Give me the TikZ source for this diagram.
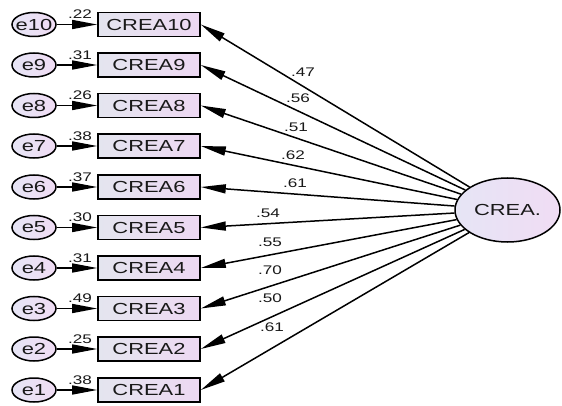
\documentclass[tikz,border=0pt]{standalone}
\usepackage{fontspec}
\newfontfamily\amosfont[FakeStretch=1.37]{Liberation Sans}
\usetikzlibrary{arrows.meta,shapes.geometric}
\definecolor{boxleft}{RGB}{228,229,239}
\definecolor{boxright}{RGB}{237,216,242}
\definecolor{latleft}{RGB}{230,229,245}
\definecolor{latright}{RGB}{240,220,244}
\tikzset{
	itembox/.style={draw, line width=1.6pt, rectangle, minimum width=102pt, minimum height=24pt, inner sep=0pt,
		left color=boxleft, right color=boxright, text=black!90, font=\amosfont\fontsize{16}{18}\selectfont},
	errnode/.style={draw, line width=1.5pt, ellipse, minimum width=44pt, minimum height=24pt, inner xsep=-3pt, inner ysep=0pt,
		left color=latleft, right color=latright, text=black!90, font=\amosfont\fontsize{16}{18}\selectfont},
	latnode/.style={draw, line width=1.5pt, ellipse, minimum width=105pt, minimum height=64pt, inner sep=0pt,
		left color=latleft, right color=latright, text=black!90, font=\amosfont\fontsize{16}{18}\selectfont},
	loadarrow/.style={line width=1.5pt, -{Triangle[length=25pt,width=9pt]}},
	coef/.style={inner sep=0pt, text=black!90, font=\amosfont\fontsize{12.5}{14}\selectfont},
}

\begin{document}
\begin{tikzpicture}[x=1pt, y=-1pt]
		%%%%% START %%%%%
		\useasboundingbox (0, 0) rectangle (562, 406);
		
		\node[latnode] (crea) at (507.5, 210) {CREA.};
		
		\node[itembox] (c10) at (149, 24.5) {CREA10};
		\node[itembox] (c9) at (149, 65) {CREA9};
		\node[itembox] (c8) at (149, 105.5) {CREA8};
		\node[itembox] (c7) at (149, 146) {CREA7};
		\node[itembox] (c6) at (149, 187) {CREA6};
		\node[itembox] (c5) at (149, 227.5) {CREA5};
		\node[itembox] (c4) at (149, 268) {CREA4};
		\node[itembox] (c3) at (149, 308.5) {CREA3};
		\node[itembox] (c2) at (149, 349) {CREA2};
		\node[itembox] (c1) at (149, 390) {CREA1};
		
		\node[errnode] (e10) at (34, 24.5) {e10};
		\node[errnode] (e9) at (34, 65) {e9};
		\node[errnode] (e8) at (34, 105.5) {e8};
		\node[errnode] (e7) at (34, 146) {e7};
		\node[errnode] (e6) at (34, 187) {e6};
		\node[errnode] (e5) at (34, 227.5) {e5};
		\node[errnode] (e4) at (34, 268) {e4};
		\node[errnode] (e3) at (34, 308.5) {e3};
		\node[errnode] (e2) at (34, 349) {e2};
		\node[errnode] (e1) at (34, 390) {e1};
		
		\draw[loadarrow] (e10) -- (c10);
		\draw[loadarrow] (e9) -- (c9);
		\draw[loadarrow] (e8) -- (c8);
		\draw[loadarrow] (e7) -- (c7);
		\draw[loadarrow] (e6) -- (c6);
		\draw[loadarrow] (e5) -- (c5);
		\draw[loadarrow] (e4) -- (c4);
		\draw[loadarrow] (e3) -- (c3);
		\draw[loadarrow] (e2) -- (c2);
		\draw[loadarrow] (e1) -- (c1);
		
		\node[coef] (r10) at (80, 14) {.22};
		\node[coef] (r9) at (80, 55) {.31};
		\node[coef] (r8) at (80, 95.5) {.26};
		\node[coef] (r7) at (80, 136) {.38};
		\node[coef] (r6) at (80, 177) {.37};
		\node[coef] (r5) at (80, 217.5) {.30};
		\node[coef] (r4) at (80, 258) {.31};
		\node[coef] (r3) at (80, 298.5) {.49};
		\node[coef] (r2) at (80, 339) {.25};
		\node[coef] (r1) at (80, 380) {.38};
		
		\draw[loadarrow] (crea) -- (c10.east);
		\draw[loadarrow] (crea) -- (c9.east);
		\draw[loadarrow] (crea) -- (c8.east);
		\draw[loadarrow] (crea) -- (c7.east);
		\draw[loadarrow] (crea) -- (c6.east);
		\draw[loadarrow] (crea) -- (c5.east);
		\draw[loadarrow] (crea) -- (c4.east);
		\draw[loadarrow] (crea) -- (c3.east);
		\draw[loadarrow] (crea) -- (c2.east);
		\draw[loadarrow] (crea) -- (c1.east);
		
		\node[coef] (w10) at (303, 72) {.47};
		\node[coef] (w9) at (298, 98) {.56};
		\node[coef] (w8) at (296, 127) {.51};
		\node[coef] (w7) at (293, 155) {.62};
		\node[coef] (w6) at (295, 183) {.61};
		\node[coef] (w5) at (268, 213) {.54};
		\node[coef] (w4) at (270, 242) {.55};
		\node[coef] (w3) at (270, 270) {.70};
		\node[coef] (w2) at (270, 298) {.50};
		\node[coef] (w1) at (272, 327) {.61};
		
		%%%%% END %%%%%
\end{tikzpicture}
\end{document}
